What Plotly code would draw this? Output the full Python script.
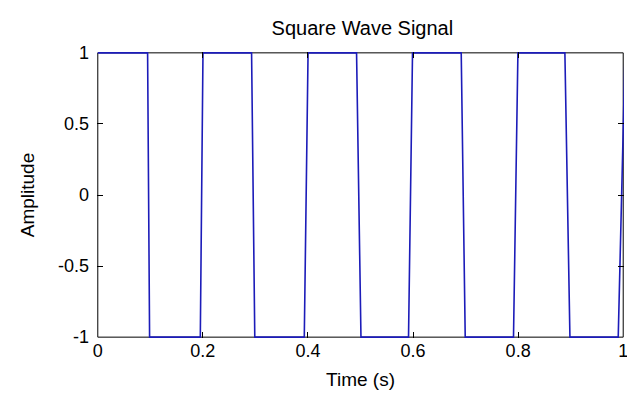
import plotly.graph_objects as go

# Signal vertices (time in s, amplitude)
time_s = [0.0, 0.0948, 0.0986, 0.1951, 0.2002, 0.2927, 0.2988, 0.3930, 0.4002,
          0.4925, 0.5009, 0.5914, 0.5990, 0.6917, 0.6993, 0.7912, 0.7996,
          0.8890, 0.8986, 0.9905, 1.0035, 1.0100]
amplitude = [1, 1, -1, -1, 1, 1, -1, -1, 1,
             1, -1, -1, 1, 1, -1, -1, 1,
             1, -1, -1, 1, 1]

x_tickvals = [0, 0.2, 0.4, 0.6, 0.8, 1]
x_ticktext = ["0", "0.2", "0.4", "0.6", "0.8", "1"]
y_tickvals = [-1, -0.5, 0, 0.5, 1]
y_ticktext = ["-1", "-0.5", "0", "0.5", "1"]

X_RANGE = [0, 1]
Y_RANGE = [-1, 1]

FONT = "Liberation Sans, Arial, Helvetica, sans-serif"

fig = go.Figure()
fig.add_trace(go.Scatter(
    x=time_s, y=amplitude, mode="lines",
    line=dict(color="rgb(28,28,185)", width=1.6),
    showlegend=False, hoverinfo="skip",
))

# axes box (drawn below the trace, so the signal covers it where it runs along the edge)
fig.add_shape(type="rect", xref="x", yref="y",
              x0=X_RANGE[0], x1=X_RANGE[1], y0=Y_RANGE[0], y1=Y_RANGE[1],
              line=dict(color="black", width=1), layer="below")

axis_common = dict(
    showline=False, mirror="ticks", automargin=False,
    ticks="inside", ticklen=6, tickwidth=1, tickcolor="black",
    showgrid=False, zeroline=False, ticklabeloverflow="allow",
    tickfont=dict(family=FONT, size=18, color="black"),
)

fig.update_layout(
    width=627, height=399,
    margin=dict(l=97, r=3, t=52, b=61, autoexpand=False),
    paper_bgcolor="white", plot_bgcolor="white",
    title=dict(text="Square Wave Signal", x=0.578, xanchor="center",
               y=0.93, yanchor="middle",
               font=dict(family=FONT, size=20, color="black")),
    xaxis=dict(range=[X_RANGE[0] - 0.0015, X_RANGE[1] + 0.0015],
               tickmode="array", tickvals=x_tickvals,
               ticktext=x_ticktext, ticklabelstandoff=0,
               title=dict(text="Time (s)", standoff=12,
                          font=dict(family=FONT, size=19, color="black")),
               **axis_common),
    yaxis=dict(range=[Y_RANGE[0] - 0.006, Y_RANGE[1] + 0.006],
               tickmode="array", tickvals=y_tickvals,
               ticktext=y_ticktext, ticklabelstandoff=7,
               title=dict(text="Amplitude", standoff=18,
                          font=dict(family=FONT, size=19, color="black")),
               **axis_common),
)

fig.write_html("out.html")
